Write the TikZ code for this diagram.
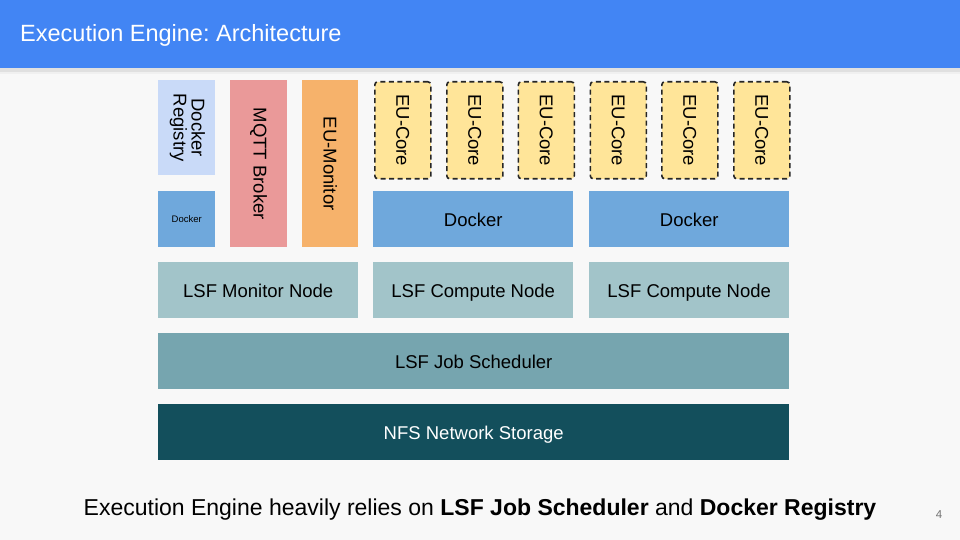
\documentclass[tikz,border=0pt]{standalone}
\usepackage{fontspec}
\setmainfont{Liberation Sans}
\frenchspacing
\usetikzlibrary{positioning}
\definecolor{titleblue}{HTML}{4285F4}
\definecolor{bgcol}{HTML}{F8F8F8}
\definecolor{regblue}{HTML}{C9DAF8}
\definecolor{dockblue}{HTML}{6FA8DC}
\definecolor{mqttred}{HTML}{EA9999}
\definecolor{monorange}{HTML}{F6B26B}
\definecolor{coreyellow}{HTML}{FFE599}
\definecolor{lsfnode}{HTML}{A2C4C9}
\definecolor{lsfsched}{HTML}{76A5AF}
\definecolor{nfsdark}{HTML}{134F5C}
\tikzset{
  blk/.style={rectangle, anchor=north west, inner sep=0pt, align=center, font=\fontsize{18.5}{21}\selectfont, text=black},
  hblk/.style={blk, text height=17pt, text depth=2.4pt},
  coreblk/.style={blk, fill=coreyellow, draw=black!85, line width=1.6pt, dash pattern=on 5pt off 3.5pt, rounded corners=3pt, minimum width=56pt, minimum height=97pt},
}
\begin{document}
\begin{tikzpicture}[x=1pt,y=-1pt]
\useasboundingbox (0,0) rectangle (960,540);
\fill[bgcol] (0,0) rectangle (960,540);
% title bar with shadow
\fill[black!12] (0,68) rectangle (960,72);
\fill[black!6] (0,72) rectangle (960,74);
\node[anchor=north west, fill=titleblue, minimum width=960pt, minimum height=68pt, inner sep=0pt] (bar) at (0,0) {};
\node[anchor=base west, text=white, font=\fontsize{23.5}{27}\selectfont, inner sep=0pt] (title) at (20,42) {Execution Engine: Architecture};

% left column
\node[blk, fill=regblue, minimum width=57pt, minimum height=95pt] (reg) at (158,80)
  {\rotatebox{-90}{\begin{tabular}{@{}c@{}}Docker\\[-3pt]Registry\end{tabular}}};
\node[blk, fill=dockblue, minimum width=57pt, minimum height=56pt, font=\fontsize{9.5}{11}\selectfont, text height=8pt, text depth=1pt] (dsmall) at (158,191) {Docker};
\node[blk, fill=mqttred, minimum width=57pt, minimum height=167pt] (mqtt) at (230,80) {\rotatebox{-90}{MQTT Broker}};
\node[blk, fill=monorange, minimum width=56pt, minimum height=167pt] (mon) at (302,80) {\rotatebox{-90}{EU-Monitor}};

% EU cores
\node[coreblk] (c1) at (374,81) {\rotatebox{-90}{EU-Core}};
\node[coreblk] (c2) at (446,81) {\rotatebox{-90}{EU-Core}};
\node[coreblk] (c3) at (517.5,81) {\rotatebox{-90}{EU-Core}};
\node[coreblk] (c4) at (589.5,81) {\rotatebox{-90}{EU-Core}};
\node[coreblk] (c5) at (661,81) {\rotatebox{-90}{EU-Core}};
\node[coreblk] (c6) at (733,81) {\rotatebox{-90}{EU-Core}};

% dockers
\node[hblk, fill=dockblue, minimum width=200pt, minimum height=56pt] (d1) at (373,191) {Docker};
\node[hblk, fill=dockblue, minimum width=200pt, minimum height=56pt] (d2) at (589,191) {Docker};

% LSF nodes
\node[hblk, fill=lsfnode, minimum width=200pt, minimum height=56pt] (lmon) at (158,262) {LSF Monitor Node};
\node[hblk, fill=lsfnode, minimum width=200pt, minimum height=56pt] (lc1) at (373,262) {LSF Compute Node};
\node[hblk, fill=lsfnode, minimum width=200pt, minimum height=56pt] (lc2) at (589,262) {LSF Compute Node};

\node[hblk, fill=lsfsched, minimum width=631pt, minimum height=56pt] (sched) at (158,333) {LSF Job Scheduler};
\node[hblk, fill=nfsdark, text=white, minimum width=631pt, minimum height=56pt] (nfs) at (158,404) {NFS Network Storage};

% bottom text
\node[font=\fontsize{23}{27}\selectfont, inner sep=0pt, anchor=base] (caption) at (480,515)
  {Execution Engine heavily relies on \textbf{LSF Job Scheduler} and \textbf{Docker Registry}};
\node[font=\fontsize{11.5}{13}\selectfont, text=black!55, inner sep=0pt, anchor=base] (pnum) at (939,518) {4};
\end{tikzpicture}
\end{document}
